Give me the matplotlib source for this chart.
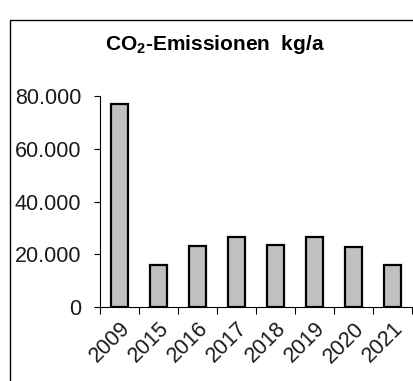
import numpy as np
import matplotlib.pyplot as plt
from matplotlib.patches import Rectangle
from matplotlib.ticker import FuncFormatter

jahre = ['2009', '2015', '2016', '2017', '2018', '2019', '2020', '2021']
emissionen = [77000, 16000, 23000, 26500, 23500, 26500, 22600, 16000]

plt.rcParams['font.family'] = ['Liberation Sans', 'DejaVu Sans']

fig = plt.figure(figsize=(4.14, 3.81), dpi=100)
ax = fig.add_axes([100 / 414, 1 - 307 / 381, 312 / 414, 211 / 381])

x = np.arange(len(jahre))
ax.bar(x, emissionen, width=0.44, color='#c0c0c0', edgecolor='black', linewidth=1.6)

ax.set_xlim(-0.5, len(jahre) - 0.5)
ax.set_ylim(0, 80000)
ax.set_yticks([0, 20000, 40000, 60000, 80000])
ax.yaxis.set_major_formatter(FuncFormatter(lambda v, p: f'{int(v):,}'.replace(',', '.')))
ax.tick_params(axis='y', direction='out', length=4, width=0.8, labelsize=15.5, pad=9.5,
               colors='black', labelcolor='#1a1a1a')

ax.set_xticks(x)
ax.set_xticklabels(jahre, rotation=45, ha='right', rotation_mode='anchor', fontsize=15.5,
                   color='#1a1a1a')
ax.set_xticks(np.arange(len(jahre) + 1) - 0.5, minor=True)
ax.tick_params(axis='x', which='major', length=0, pad=8)
ax.tick_params(axis='x', which='minor', direction='out', length=5, width=0.8)

for s in ['top', 'right']:
    ax.spines[s].set_visible(False)
ax.spines['left'].set_linewidth(0.8)
ax.spines['bottom'].set_linewidth(0.8)

fig.text(215 / 414, 1 - 45 / 381, r'CO$_\mathregular{2}$-Emissionen  kg/a', ha='center', va='center',
         fontsize=15, fontweight='bold')

fig.patches.append(Rectangle((10, -20), 430, 352 + 20 + 9, transform=None, fill=False,
                             edgecolor='black', linewidth=1.0))

fig.savefig('out.png', dpi=100)
